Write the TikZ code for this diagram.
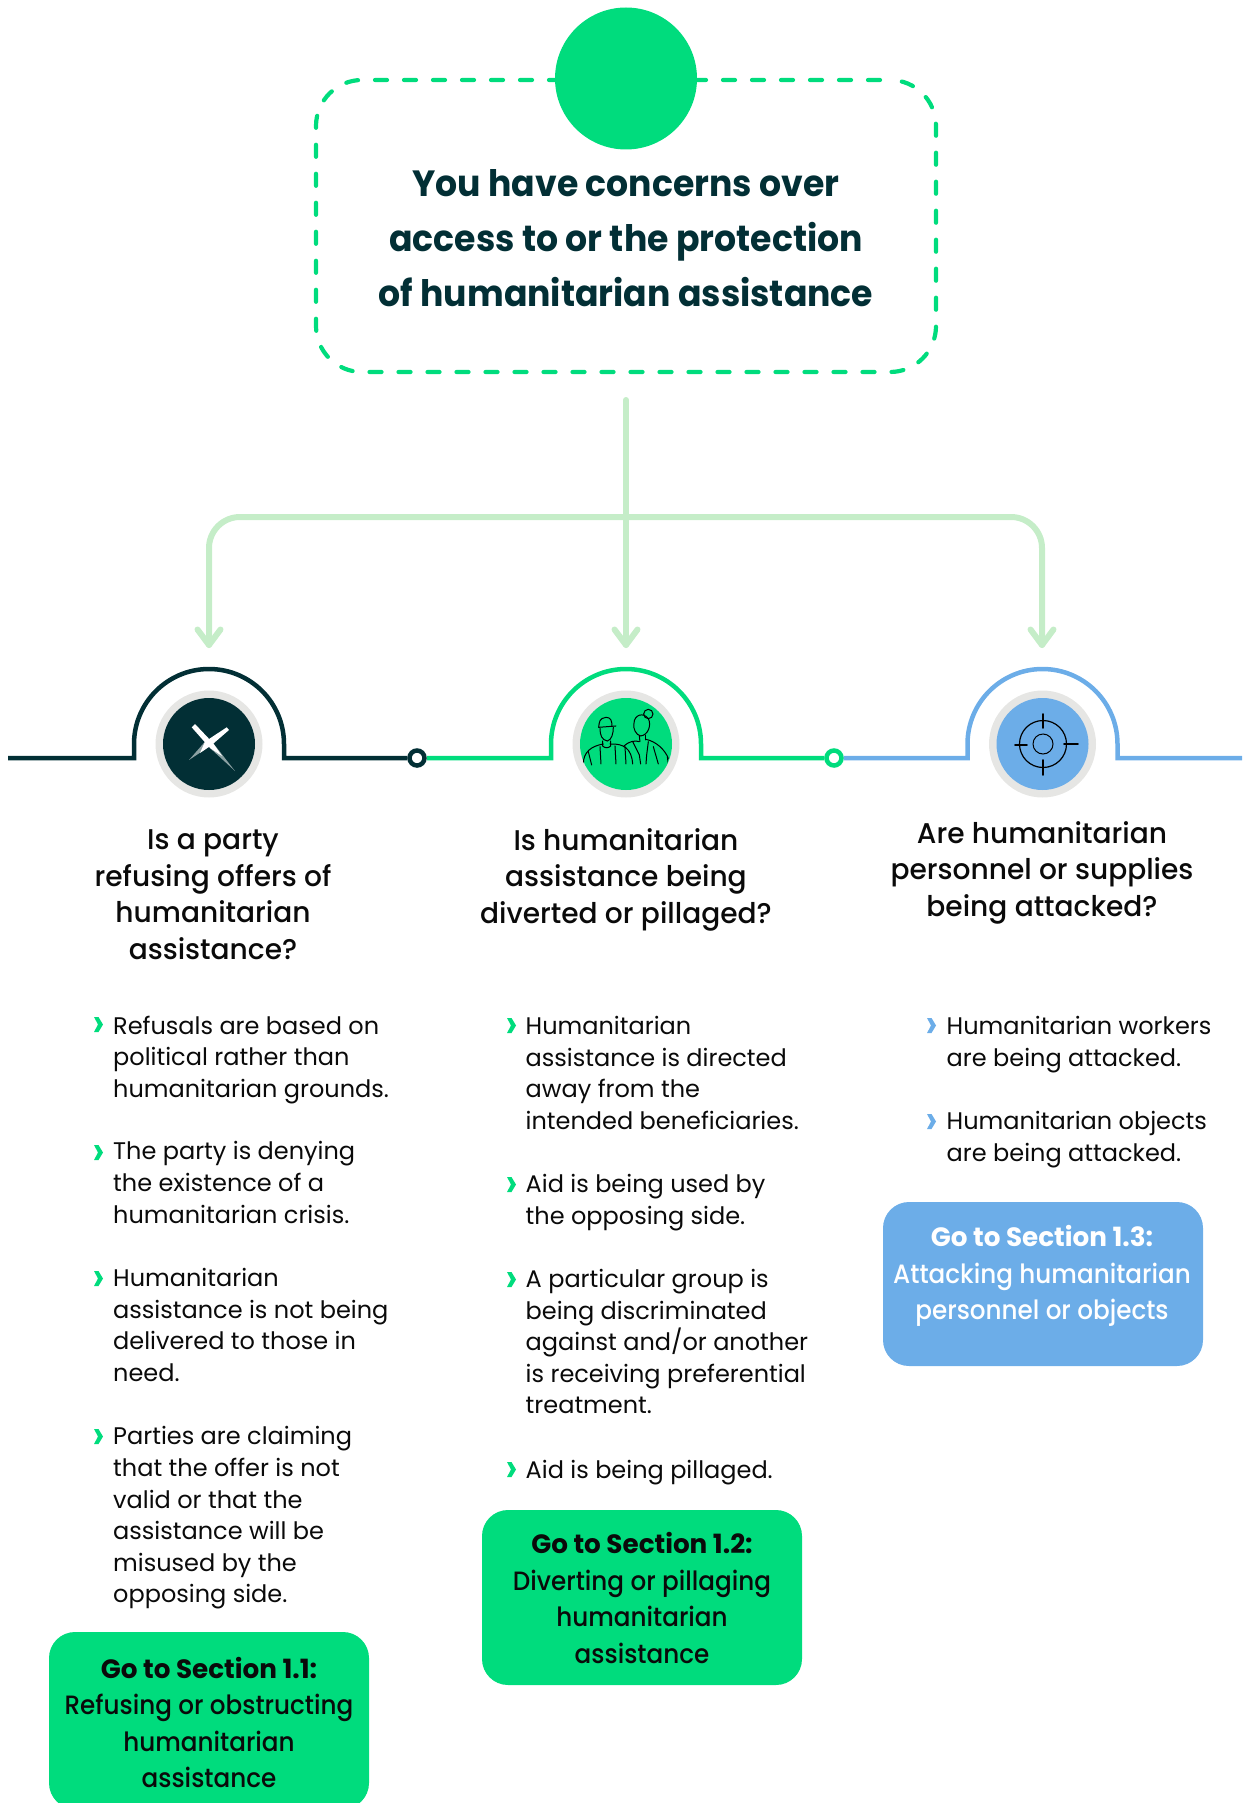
\documentclass[tikz,border=0pt]{standalone}
\usepackage{fontspec}
\setmainfont{Poppins}
\newfontfamily\fhead[FakeStretch=0.985]{Poppins Medium}
\newfontfamily\fbtn[FakeStretch=0.93]{Poppins Medium}
\newfontfamily\fbold[FakeStretch=0.99]{Poppins}
\newfontfamily\ftitle[FakeStretch=0.95]{Poppins}
\usetikzlibrary{arrows.meta}
\definecolor{ink}{HTML}{022F35}
\definecolor{mint}{HTML}{00DC7D}
\definecolor{sky}{HTML}{6CADE8}
\definecolor{pale}{HTML}{C5EDC8}
\definecolor{ringgray}{HTML}{E6E6E4}
\definecolor{txt}{HTML}{0A0A0A}
\tikzset{
  x=1pt,y=-1pt,
  flow/.style={draw=pale,line width=6pt,line cap=round,line join=round},
  track/.style={line width=4.5pt,line join=miter},
  ring/.style={circle,draw=#1,fill=white,line width=4.5pt,minimum size=15pt,inner sep=0pt},
  halo/.style={circle,fill=ringgray,minimum size=107pt,inner sep=0pt},
  disc/.style={circle,fill=#1,minimum size=92pt,inner sep=0pt},
  title/.style={text=ink,align=center,font=\ftitle\bfseries\fontsize{36.5}{55}\selectfont},
  head/.style={text=txt,align=center,font=\fhead\fontsize{28.5}{36.5}\selectfont},
  body/.style={text=txt,align=left,anchor=north west,inner sep=0pt,font=\fontsize{24}{31.6}\selectfont},
  btn/.style={fill=#1,rounded corners=26pt,inner sep=0pt},
  btntext/.style={align=center,font=\fbtn\fontsize{26.5}{36.4}\selectfont},
  sketch/.style={draw=black,line width=1pt,line cap=round},
}
\newcommand{\chev}[3]{\fill[#3] (#1,#2) -- ++(4.5,0) -- ++(4.5,7.5) -- ++(-4.5,7.5) -- ++(-4.5,0) -- ++(4,-7.5) -- cycle;}
\newcommand{\btnhead}[1]{{\fbold\bfseries #1}}
\begin{document}
\begin{tikzpicture}
\useasboundingbox (0,0) rectangle (1242,1803);
\clip (0,0) rectangle (1242,1803);
% top box
\node[draw=mint,line width=4.2pt,dash pattern=on 12pt off 17pt,dash phase=19pt,line cap=round,rounded corners=46pt,minimum width=620pt,minimum height=292pt] (box) at (626,226) {};
\node[circle,fill=mint,minimum size=142pt,inner sep=0pt] (sun) at (626,78.5) {};
\node[title] (ttl) at (626,238) {You have concerns over\\access to or the protection\\of humanitarian assistance};
% connectors
\coordinate (start) at (626,400);
\coordinate (hub) at (626,517);
\coordinate (a1) at (209,645);
\coordinate (a2) at (626,645);
\coordinate (a3) at (1042,645);
\draw[flow] (start) -- (a2);
\draw[flow,rounded corners=31pt] (hub) -| (a1);
\draw[flow,rounded corners=31pt] (hub) -| (a3);
\draw[flow] (a1) ++(-11.5,-15.5) -- (a1) -- ++(11.5,-15.5);
\draw[flow] (a2) ++(-11.5,-15.5) -- (a2) -- ++(11.5,-15.5);
\draw[flow] (a3) ++(-11.5,-15.5) -- (a3) -- ++(11.5,-15.5);
% track
\coordinate (t0) at (8,758);
\coordinate (t4) at (1242,758);
\node[ring=ink] (r1) at (417,758) {};
\node[ring=mint] (r2) at (834,758) {};
\draw[track,draw=ink] (t0) -- (134,758) -- (134,744) arc[start angle=180,end angle=360,radius=75] -- (284,758) -- (r1.west);
\draw[track,draw=mint] (r1.east) -- (551,758) -- (551,744) arc[start angle=180,end angle=360,radius=75] -- (701,758) -- (r2.west);
\draw[track,draw=sky] (r2.east) -- (967.5,758) -- (967.5,744) arc[start angle=180,end angle=360,radius=75] -- (1117.5,758) -- (t4);
% icons
\node[halo] (h1) at (209,744) {};
\node[disc=ink] (d1) at (209,744) {};
\node[halo] (h2) at (626,744) {};
\node[disc=mint] (d2) at (626,744) {};
\node[halo] (h3) at (1042.5,744) {};
\node[disc=sky] (d3) at (1042.5,744) {};
% X icon
\fill[white,opacity=0.55] (213,743) -- (235,771) -- (210,748) -- cycle;
\fill[white,opacity=0.55] (205,741.7) -- (189,760) -- (211.7,745) -- cycle;
\fill[white] (191.7,727.3) -- (195,724) -- (213,743) -- (222,756) -- (210,748) -- cycle;
\fill[white] (226.7,727.3) -- (229,730) -- (211.7,745) -- (200,753) -- (205,741.7) -- cycle;
% people icon
\begin{scope}[shift={(520,640)},x=0.3333pt,y=-0.3333pt]
\clip (317,312) circle[radius=138];
\draw[sketch] (236,262) .. controls (238,245) and (238,235) .. (258,232) .. controls (272,232) and (276,242) .. (276,258);
\draw[sketch] (236,262) -- (288,258);
\draw[sketch] (240,265) .. controls (240,285) and (245,300) .. (262,303) .. controls (275,300) and (280,280) .. (280,262);
\draw[sketch] (248,303) -- (248,318) .. controls (255,325) and (265,325) .. (272,318) -- (272,303);
\draw[sketch] (190,372) .. controls (190,335) and (215,318) .. (250,312);
\draw[sketch] (270,312) .. controls (310,310) and (335,325) .. (338,372);
\draw[sketch] (205,335) -- (215,375);
\draw[sketch] (240,320) -- (243,372);
\draw[sketch] (285,318) -- (288,372);
\draw[sketch] (315,320) -- (318,372);
\draw[sketch] (385,222) circle[radius=14];
\draw[sketch] (342,250) .. controls (342,225) and (370,215) .. (385,236) .. controls (395,255) and (385,285) .. (362,288) .. controls (348,285) and (338,265) .. (342,250);
\draw[sketch] (358,288) -- (360,305);
\draw[sketch] (378,285) -- (378,300);
\draw[sketch] (312,318) .. controls (325,305) and (345,300) .. (358,305);
\draw[sketch] (378,298) .. controls (410,305) and (435,330) .. (445,355);
\draw[sketch] (338,305) -- (358,345) -- (362,372);
\draw[sketch] (385,305) -- (380,345) -- (378,372);
\draw[sketch] (400,320) -- (415,372);
\draw[sketch] (445,372) -- (442,350);
\end{scope}
% target icon
\draw[sketch,line width=1.2pt] (1043,744) circle[radius=23.5];
\draw[sketch] (1043,744) circle[radius=10];
\draw[sketch,line width=1.8pt] (1043,714) -- (1043,728);
\draw[sketch,line width=1.8pt] (1043,760) -- (1043,775);
\draw[sketch,line width=1.8pt] (1015,745) -- (1027,745);
\draw[sketch,line width=1.8pt] (1064,744) -- (1078,744);
% headings
\node[head] (q1) at (213,894.5) {Is a party\\refusing offers of\\humanitarian\\assistance?};
\node[head] (q2) at (626,879.5) {Is humanitarian\\assistance being\\diverted or pillaged?};
\node[head] (q3) at (1042,872.5) {Are humanitarian\\personnel or supplies\\being attacked?};
% column 1
\chev{94}{1017}{mint}
\node[body] (c11) at (113,1015.5) {Refusals are based on\\political rather than\\humanitarian grounds.};
\chev{94}{1145}{mint}
\node[body] (c12) at (113,1141.5) {The party is denying\\the existence of a\\humanitarian crisis.};
\chev{94}{1271}{mint}
\node[body] (c13) at (113,1268) {Humanitarian\\assistance is not being\\delivered to those in\\need.};
\chev{94}{1429}{mint}
\node[body] (c14) at (113,1426.5) {Parties are claiming\\that the offer is not\\valid or that the\\assistance will be\\misused by the\\opposing side.};
% column 2
\chev{507}{1018}{mint}
\node[body] (c21) at (525.5,1016) {Humanitarian\\assistance is directed\\away from the\\intended beneficiaries.};
\chev{507}{1177}{mint}
\node[body] (c22) at (525.5,1174.5) {Aid is being used by\\the opposing side.};
\chev{507}{1272}{mint}
\node[body] (c23) at (525.5,1269) {A particular group is\\being discriminated\\against and/or another\\is receiving preferential\\treatment.};
\chev{507}{1462}{mint}
\node[body] (c24) at (525.5,1460) {Aid is being pillaged.};
% column 3
\chev{927}{1018}{sky}
\node[body] (c31) at (946.5,1016) {Humanitarian workers\\are being attacked.};
\chev{927}{1114}{sky}
\node[body] (c32) at (946.5,1111.5) {Humanitarian objects\\are being attacked.};
% buttons
\fill[btn=mint] (49,1632) rectangle (369,1809);
\node[btntext,text=txt] (b1) at (209,1722.5) {\btnhead{Go to Section 1.1:}\\Refusing or obstructing\\humanitarian\\assistance};
\fill[btn=mint] (482,1510) rectangle (802,1685);
\node[btntext,text=txt] (b2) at (642,1598) {\btnhead{Go to Section 1.2:}\\Diverting or pillaging\\humanitarian\\assistance};
\fill[btn=sky] (883,1202) rectangle (1203,1366);
\node[btntext,text=white] (b3) at (1042,1276) {\btnhead{Go to Section 1.3:}\\Attacking humanitarian\\personnel or objects};
\end{tikzpicture}
\end{document}
